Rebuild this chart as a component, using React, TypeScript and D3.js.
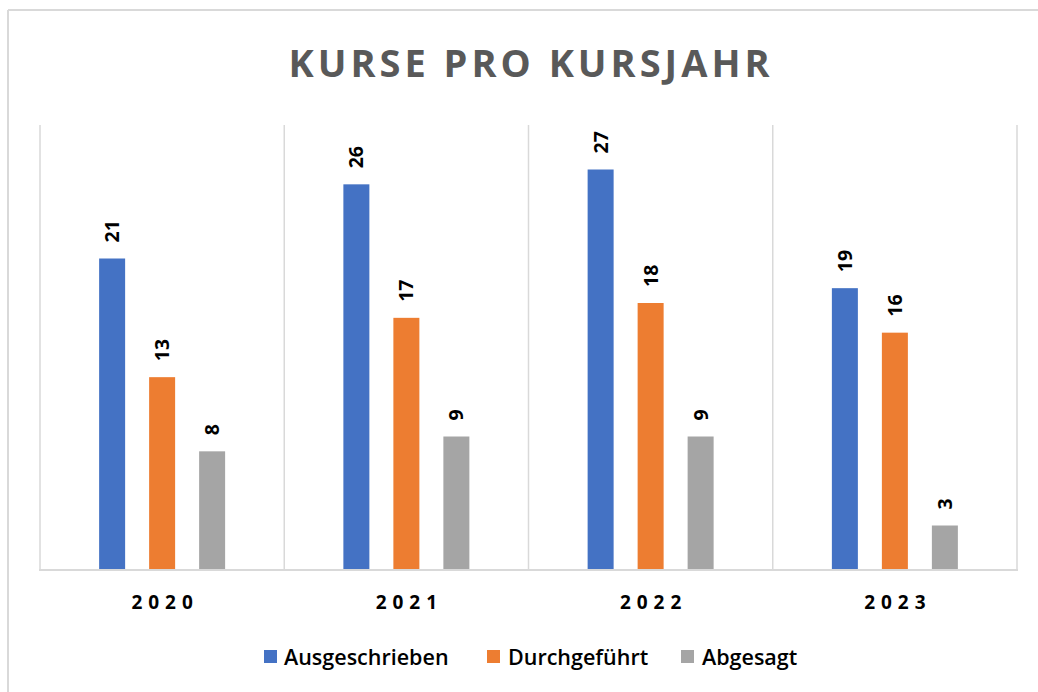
import React from "react";
import * as d3 from "d3";

const years = ["2020", "2021", "2022", "2023"];
const seriesNames = ["Ausgeschrieben", "Durchgeführt", "Abgesagt"];
const ausgeschrieben = [21, 26, 27, 19];
const durchgefuehrt = [13, 17, 18, 16];
const abgesagt = [8, 9, 9, 3];
const colors = ["#4472C4", "#ED7D31", "#A5A5A5"];
const yMax = 30;

const W = 1038;
const H = 692;
const plot = { left: 40, right: 1017, top: 125, bottom: 570 };
const FONT = "'Open Sans', sans-serif";

export default function App() {
  const seriesValues = [ausgeschrieben, durchgefuehrt, abgesagt];
  const x0 = d3.scaleBand<string>().domain(years).range([plot.left, plot.right]).padding(0);
  const bw = x0.bandwidth();
  const pIn = 0.48;
  const step = 50;
  const pOut = (bw / step - (3 - pIn)) / 2;
  const x1 = d3
    .scaleBand<string>()
    .domain(seriesNames)
    .range([0, bw])
    .paddingInner(pIn)
    .paddingOuter(pOut);
  const y = d3.scaleLinear().domain([0, yMax]).range([plot.bottom, plot.top]);

  const boundaries = years.map((yr) => x0(yr) as number).concat([plot.right]);

  const legendItems = [
    { name: seriesNames[0], sx: 264, tx: 284 },
    { name: seriesNames[1], sx: 487, tx: 508 },
    { name: seriesNames[2], sx: 681, tx: 702 },
  ];

  return (
    <svg
      width={W}
      height={H}
      style={{ position: "absolute", left: 0, top: 0, background: "#fff" }}
    >
      <rect x={0} y={0} width={W} height={H} fill="#fff" />
      <line x1={8} y1={10} x2={W + 2} y2={10} stroke="#d9d9d9" strokeWidth={2} />
      <line x1={8} y1={10} x2={8} y2={H + 2} stroke="#d9d9d9" strokeWidth={2} />

      <text
        x={531}
        y={77}
        textAnchor="middle"
        fill="#595959"
        fontFamily={FONT}
        fontWeight={700}
        fontSize={38}
        letterSpacing={4}
      >
        KURSE PRO KURSJAHR
      </text>

      {boundaries.map((bx, i) => (
        <line
          key={"g" + i}
          x1={bx}
          x2={bx}
          y1={plot.top}
          y2={plot.bottom}
          stroke="#d9d9d9"
          strokeWidth={1.5}
        />
      ))}

      {years.map((yr, i) => (
        <g key={yr} transform={`translate(${x0(yr)},0)`}>
          {seriesNames.map((s, j) => {
            const v = seriesValues[j][i];
            const bx = x1(s) as number;
            const cx = bx + x1.bandwidth() / 2;
            return (
              <g key={s}>
                <rect
                  x={bx}
                  y={y(v)}
                  width={x1.bandwidth()}
                  height={plot.bottom - y(v)}
                  fill={colors[j]}
                />
                <text
                  transform={`translate(${cx + 7},${y(v) - 16}) rotate(-90)`}
                  textAnchor="start"
                  fontFamily={FONT}
                  fontWeight={700}
                  fontSize={19.5}
                  fill="#000"
                >
                  {v}
                </text>
              </g>
            );
          })}
        </g>
      ))}

      <line
        x1={plot.left - 1}
        x2={plot.right + 1}
        y1={plot.bottom}
        y2={plot.bottom}
        stroke="#d9d9d9"
        strokeWidth={2}
      />

      {years.map((yr) => (
        <text
          key={"l" + yr}
          x={(x0(yr) as number) + bw / 2 + 3}
          y={609}
          textAnchor="middle"
          fontFamily={FONT}
          fontWeight={700}
          fontSize={19}
          letterSpacing={6}
          fill="#000"
        >
          {yr}
        </text>
      ))}

      {legendItems.map((it, j) => (
        <g key={it.name}>
          <rect x={it.sx} y={650} width={13} height={13} fill={colors[j]} />
          <text
            x={it.tx}
            y={665}
            fontFamily={FONT}
            fontWeight={600}
            fontSize={21.5}
            fill="#000"
          >
            {it.name}
          </text>
        </g>
      ))}
    </svg>
  );
}
